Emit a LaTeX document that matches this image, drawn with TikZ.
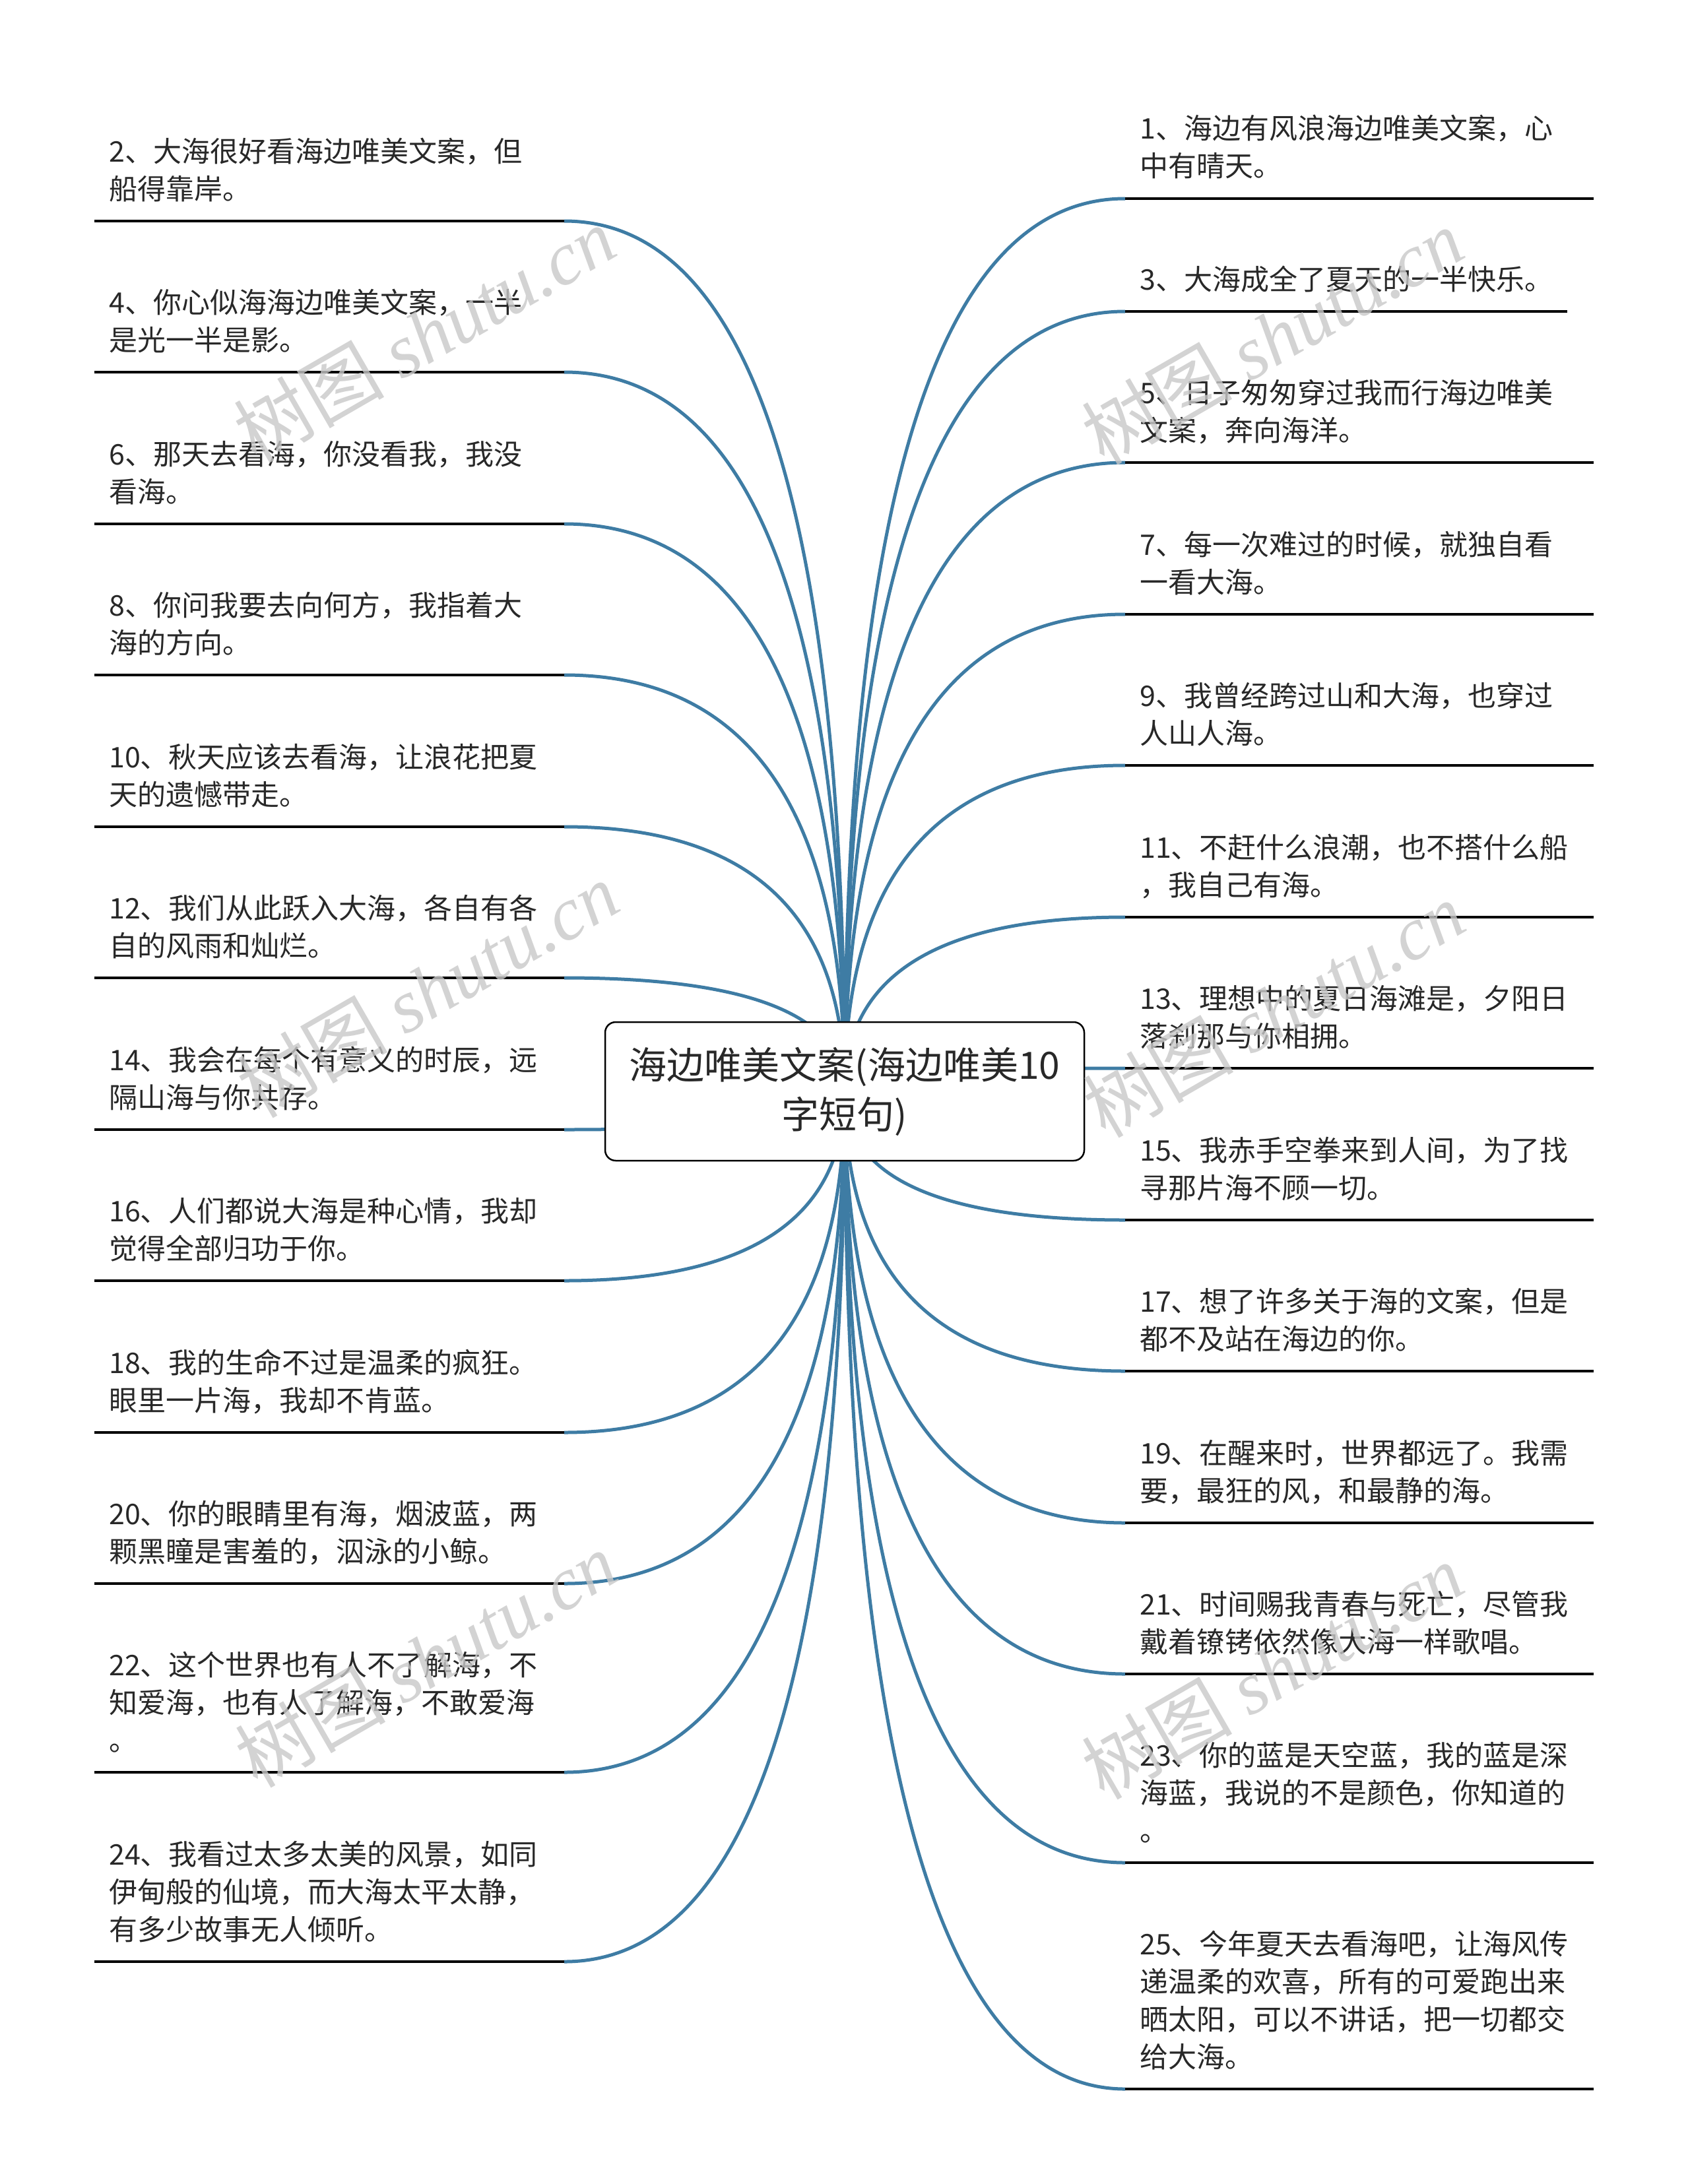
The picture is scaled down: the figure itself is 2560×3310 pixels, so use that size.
\documentclass[tikz,border=0pt]{standalone}
\usepackage{fontspec}
\setmainfont{Noto Sans CJK SC}
\newfontfamily\wmlatin{Liberation Serif}
\usetikzlibrary{calc}
\definecolor{linkblue}{RGB}{62,124,164}
\definecolor{txtgray}{RGB}{40,40,40}
\definecolor{wmgray}{RGB}{200,200,200}
\newcommand{\itemtext}[1]{\begin{tabular}[b]{@{}l@{}}#1\end{tabular}}
\newcommand{\leftitem}[3]{%
  \coordinate (L#1a) at (855,#2);
  \coordinate (L#1b) at (143,#2);
  \draw[link] (rc) .. controls ($(rc)!2/3!(1280,#2)$) and ($(L#1a)!2/3!(1280,#2)$) .. (L#1a);
  \draw[uline] (L#1a) -- (L#1b);
  \node[itemtxt] (T#1) at (165,#2-33) {\itemtext{#3}};
}
\newcommand{\rightitem}[4]{%
  \coordinate (R#1a) at (1705,#2);
  \coordinate (R#1b) at (#3,#2);
  \draw[link] (rc) .. controls ($(rc)!2/3!(1280,#2)$) and ($(R#1a)!2/3!(1280,#2)$) .. (R#1a);
  \draw[uline] (R#1a) -- (R#1b);
  \node[itemtxt] (T#1) at (1727,#2-33) {\itemtext{#4}};
}
\begin{document}
\begin{tikzpicture}[x=1pt,y=-1pt,
  link/.style={draw=linkblue,line width=5pt},
  uline/.style={draw=black,line width=4pt},
  itemtxt/.style={anchor=base west,inner sep=0pt,text=txtgray,font=\fontsize{43}{57}\selectfont},
  rootbox/.style={draw=black,line width=2.5pt,fill=white,rounded corners=16pt,minimum width=726pt,minimum height=210pt,inner sep=0pt,align=center,text=txtgray,font=\fontsize{57}{75}\selectfont},
  wm/.style={text=wmgray,opacity=0.8,rotate=30,inner sep=0pt,font=\fontsize{114}{114}\selectfont}]
\useasboundingbox (0,0) rectangle (2560,3310);
\fill[white] (0,0) rectangle (2560,3310);
\coordinate (rc) at (1280,1654);

\leftitem{2}{335}{2、大海很好看海边唯美文案，但\\船得靠岸。}
\leftitem{4}{564}{4、你心似海海边唯美文案，一半\\是光一半是影。}
\leftitem{6}{794}{6、那天去看海，你没看我，我没\\看海。}
\leftitem{8}{1023}{8、你问我要去向何方，我指着大\\海的方向。}
\leftitem{10}{1253}{10、秋天应该去看海，让浪花把夏\\天的遗憾带走。}
\leftitem{12}{1482}{12、我们从此跃入大海，各自有各\\自的风雨和灿烂。}
\leftitem{14}{1712}{14、我会在每个有意义的时辰，远\\隔山海与你共存。}
\leftitem{16}{1941}{16、人们都说大海是种心情，我却\\觉得全部归功于你。}
\leftitem{18}{2171}{18、我的生命不过是温柔的疯狂。\\眼里一片海，我却不肯蓝。}
\leftitem{20}{2400}{20、你的眼睛里有海，烟波蓝，两\\颗黑瞳是害羞的，泅泳的小鲸。}
\leftitem{22}{2686}{22、这个世界也有人不了解海，不\\知爱海，也有人了解海，不敢爱海\\。}
\leftitem{24}{2973}{24、我看过太多太美的风景，如同\\伊甸般的仙境，而大海太平太静，\\有多少故事无人倾听。}

\rightitem{1}{301}{2415}{1、海边有风浪海边唯美文案，心\\中有晴天。}
\rightitem{3}{472}{2375}{3、大海成全了夏天的一半快乐。}
\rightitem{5}{701}{2415}{5、日子匆匆穿过我而行海边唯美\\文案，奔向海洋。}
\rightitem{7}{931}{2415}{7、每一次难过的时候，就独自看\\一看大海。}
\rightitem{9}{1160}{2415}{9、我曾经跨过山和大海，也穿过\\人山人海。}
\rightitem{11}{1390}{2415}{11、不赶什么浪潮，也不搭什么船\\，我自己有海。}
\rightitem{13}{1619}{2415}{13、理想中的夏日海滩是，夕阳日\\落刹那与你相拥。}
\rightitem{15}{1849}{2415}{15、我赤手空拳来到人间，为了找\\寻那片海不顾一切。}
\rightitem{17}{2078}{2415}{17、想了许多关于海的文案，但是\\都不及站在海边的你。}
\rightitem{19}{2308}{2415}{19、在醒来时，世界都远了。我需\\要，最狂的风，和最静的海。}
\rightitem{21}{2537}{2415}{21、时间赐我青春与死亡，尽管我\\戴着镣铐依然像大海一样歌唱。}
\rightitem{23}{2823}{2415}{23、你的蓝是天空蓝，我的蓝是深\\海蓝，我说的不是颜色，你知道的\\。}
\rightitem{25}{3166}{2415}{25、今年夏天去看海吧，让海风传\\递温柔的欢喜，所有的可爱跑出来\\晒太阳，可以不讲话，把一切都交\\给大海。}

\node[rootbox] (root) at (rc) {海边唯美文案(海边唯美10\\字短句)};

\node[wm] (wm1) at (643,507) {树图 {\wmlatin\itshape shutu.cn}};
\node[wm] (wm2) at (1928,510) {树图 {\wmlatin\itshape shutu.cn}};
\node[wm] (wm3) at (648,1500) {树图 {\wmlatin\itshape shutu.cn}};
\node[wm] (wm4) at (1930,1530) {树图 {\wmlatin\itshape shutu.cn}};
\node[wm] (wm5) at (645,2515) {树图 {\wmlatin\itshape shutu.cn}};
\node[wm] (wm6) at (1928,2533) {树图 {\wmlatin\itshape shutu.cn}};
\end{tikzpicture}
\end{document}
